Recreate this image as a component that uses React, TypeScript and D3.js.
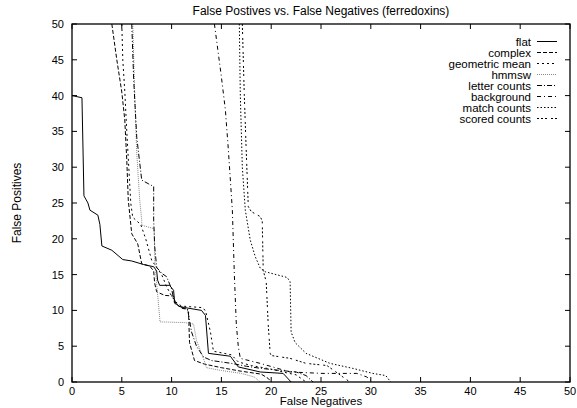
import React, { useEffect, useRef } from 'react';
import * as d3 from 'd3';

// chart values
const xTicks = [0, 5, 10, 15, 20, 25, 30, 35, 40, 45, 50];
const yTicks = [0, 5, 10, 15, 20, 25, 30, 35, 40, 45, 50];

const flat = [
  [0, 40], [1, 39.7], [1.2, 26], [1.6, 25], [1.8, 24], [2.6, 23.3], [2.8, 22], [3, 19],
  [4, 18.4], [5.1, 17.1], [6, 16.9], [7.2, 16.4], [8.2, 16.1], [8.5, 15.5], [8.6, 14.2],
  [8.8, 13.5], [9.8, 13.5], [10.2, 12.8], [10.3, 11.2], [10.7, 10.6], [11.3, 10.4],
  [13, 10], [13.4, 9.3], [13.7, 4], [15.9, 3.6], [16.7, 2.1], [18.9, 1.4], [21.2, 1.2], [22, 0],
];
const complex = [
  [4, 50], [4.5, 45], [5, 40.5], [5.3, 36.6], [5.5, 31], [5.65, 25.4], [6, 20.7], [6.6, 19.3],
  [7, 16.5], [7.8, 16.2], [8.2, 15.5], [8.3, 13.8], [8.5, 12.6], [9.3, 12.1], [10.2, 12.0],
  [10.4, 11.0], [11, 10.3], [11.4, 10.2], [11.7, 9.8], [11.8, 5.5], [12.3, 3.0], [13.3, 2.5],
  [15, 2.0], [17, 1.5], [19, 1.1], [19.7, 0.5], [20, 0],
];
const geometricMean = [
  [5, 50], [5.1, 45], [5.3, 40.6], [5.5, 35], [5.7, 30], [5.9, 25], [6.1, 23], [6.9, 22],
  [7.4, 20], [8.0, 17], [8.5, 16], [9.0, 15], [9.3, 14], [9.5, 13.3], [10.0, 12], [10.4, 11.2],
  [11, 10.6], [13, 10.4], [13.4, 10], [13.9, 7], [14.2, 4.3], [16, 3.8], [16.7, 2.8],
  [18, 2.3], [20, 1.8], [21.5, 1.3], [22.5, 1.0], [23.5, 0],
];
const hmmsw = [
  [6.1, 50], [6.3, 40], [6.5, 32], [6.8, 25.4], [7.0, 22.6], [7.0, 21.9], [8.26, 21.4],
  [8.3, 17], [8.5, 13.8], [8.84, 8.4], [11.3, 8.3], [12.2, 8.1], [12.5, 5.8], [13.2, 3.3],
  [13.5, 2.0], [15, 1.6], [17, 1.2], [18.3, 0.7], [18.9, 0],
];
const letterCounts = [
  [6.0, 50], [6.2, 42], [6.5, 34.2], [7.0, 28.2], [7.65, 27.7], [8.2, 27.3], [8.2, 22.6],
  [8.3, 19], [8.5, 16], [9.0, 15.2], [9.5, 14.7], [10, 13], [10.3, 11], [11, 10.4],
  [11.6, 10.2], [12, 7], [12.5, 5], [13.2, 3.5], [14, 3.0], [16, 2.6], [17.5, 2.2],
  [19, 1.9], [21, 1.6], [22.5, 1.4], [23.5, 0.9], [24.2, 0],
];
const background = [
  [14.3, 50], [15.0, 42.6], [15.4, 38], [15.7, 32.4], [16.1, 24], [16.3, 15], [16.5, 8],
  [16.7, 4.9], [16.9, 3.3], [18.9, 2.6], [21.9, 1.4], [25.2, 1.2], [28.6, 1.2], [29.6, 0.7],
  [30.2, 0],
];
const matchCounts = [
  [16.8, 50], [16.9, 40], [17.1, 30], [17.4, 24], [17.9, 19.8], [18.4, 17.5], [18.9, 15.9],
  [19.4, 15.4], [21.6, 14.6], [21.9, 14.0], [22.0, 7], [22.4, 5.5], [23.5, 4.0], [25.9, 2.6],
  [28.2, 1.9], [30.2, 1.2], [31.5, 0.9], [32, 0],
];
const scoredCounts = [
  [17.1, 50], [17.3, 40], [17.5, 32], [17.7, 24.5], [18.0, 23.8], [18.9, 23.1], [19.1, 22.5],
  [19.2, 15.6], [19.5, 14], [19.7, 8], [19.9, 4.0], [20.0, 3.7], [21.9, 3.3], [23.5, 2.6],
  [25.6, 2.3], [27.9, 0],
];

const seriesNames = ['flat', 'complex', 'geometric mean', 'hmmsw', 'letter counts', 'background', 'match counts', 'scored counts'];
const seriesData = [flat, complex, geometricMean, hmmsw, letterCounts, background, matchCounts, scoredCounts];
const seriesDash = ['none', '4,2', '2,3', '1,1', '5,2,1,2', '4,3,1,3', '1.5,2', '2,2,2,2,2,4'];
const seriesColor = ['#000', '#000', '#000', '#888', '#000', '#000', '#000', '#000'];

const App = () => {
  const svgRef = useRef<SVGSVGElement>(null);

  useEffect(() => {
    if (!svgRef.current) return;
    const svg = d3.select(svgRef.current);
    svg.selectAll('*').remove();

    const width = 577;
    const height = 408;
    const margin = { top: 24, right: 7, bottom: 26, left: 72 };
    const innerW = width - margin.left - margin.right;
    const innerH = height - margin.top - margin.bottom;
    const font = 'Liberation Sans, Arial, Helvetica, sans-serif';

    const x = d3.scaleLinear().domain([0, 50]).range([0, innerW]);
    const y = d3.scaleLinear().domain([0, 50]).range([innerH, 0]);

    const g = svg.append('g').attr('transform', `translate(${margin.left},${margin.top})`);

    // ticks on all four sides, pointing inwards
    const tickLen = 5;
    const ticks = g.append('g').attr('stroke', '#000').attr('stroke-width', 1);
    xTicks.forEach(t => {
      ticks.append('line').attr('x1', x(t)).attr('x2', x(t)).attr('y1', innerH).attr('y2', innerH - tickLen);
      ticks.append('line').attr('x1', x(t)).attr('x2', x(t)).attr('y1', 0).attr('y2', tickLen);
    });
    yTicks.forEach(t => {
      ticks.append('line').attr('x1', 0).attr('x2', tickLen).attr('y1', y(t)).attr('y2', y(t));
      ticks.append('line').attr('x1', innerW).attr('x2', innerW - tickLen).attr('y1', y(t)).attr('y2', y(t));
    });

    g.append('g')
      .selectAll('text')
      .data(xTicks)
      .enter()
      .append('text')
      .attr('x', d => x(d))
      .attr('y', innerH + 13)
      .attr('text-anchor', 'middle')
      .attr('font-family', font)
      .attr('font-size', 11)
      .text(d => d);

    g.append('g')
      .selectAll('text')
      .data(yTicks)
      .enter()
      .append('text')
      .attr('x', -8)
      .attr('y', d => y(d) + 4)
      .attr('text-anchor', 'end')
      .attr('font-family', font)
      .attr('font-size', 11)
      .text(d => d);

    // curves
    const line = d3.line<number[]>()
      .x(d => x(d[0]))
      .y(d => y(d[1]));

    seriesData.forEach((data, i) => {
      g.append('path')
        .datum(data)
        .attr('fill', 'none')
        .attr('stroke', seriesColor[i])
        .attr('stroke-width', 1)
        .attr('stroke-dasharray', seriesDash[i])
        .attr('d', line);
    });

    // frame
    g.append('rect')
      .attr('width', innerW)
      .attr('height', innerH)
      .attr('fill', 'none')
      .attr('stroke', '#000')
      .attr('stroke-width', 1.3);

    // legend
    const legend = g.append('g');
    seriesNames.forEach((name, i) => {
      const ly = 17.5 + i * 11;
      legend.append('text')
        .attr('x', 459)
        .attr('y', ly + 4)
        .attr('text-anchor', 'end')
        .attr('font-family', font)
        .attr('font-size', 11.5)
        .text(name);
      legend.append('line')
        .attr('x1', 465)
        .attr('x2', 485)
        .attr('y1', ly)
        .attr('y2', ly)
        .attr('stroke', seriesColor[i])
        .attr('stroke-width', 1)
        .attr('stroke-dasharray', seriesDash[i]);
    });

    // titles
    svg.append('text')
      .attr('x', margin.left + innerW / 2)
      .attr('y', 15)
      .attr('text-anchor', 'middle')
      .attr('font-family', font)
      .attr('font-size', 12)
      .text('False Postives vs. False Negatives (ferredoxins)');

    svg.append('text')
      .attr('x', margin.left + innerW / 2)
      .attr('y', 405)
      .attr('text-anchor', 'middle')
      .attr('font-family', font)
      .attr('font-size', 11.5)
      .text('False Negatives');

    svg.append('text')
      .attr('transform', `translate(21,${margin.top + innerH / 2}) rotate(-90)`)
      .attr('text-anchor', 'middle')
      .attr('font-family', font)
      .attr('font-size', 12)
      .text('False Positives');
  }, []);

  return (
    <div style={{ position: 'absolute', left: 0, top: 0 }}>
      <svg ref={svgRef} width={577} height={408} style={{ display: 'block', background: '#fff' }}></svg>
    </div>
  );
};

export default App;
